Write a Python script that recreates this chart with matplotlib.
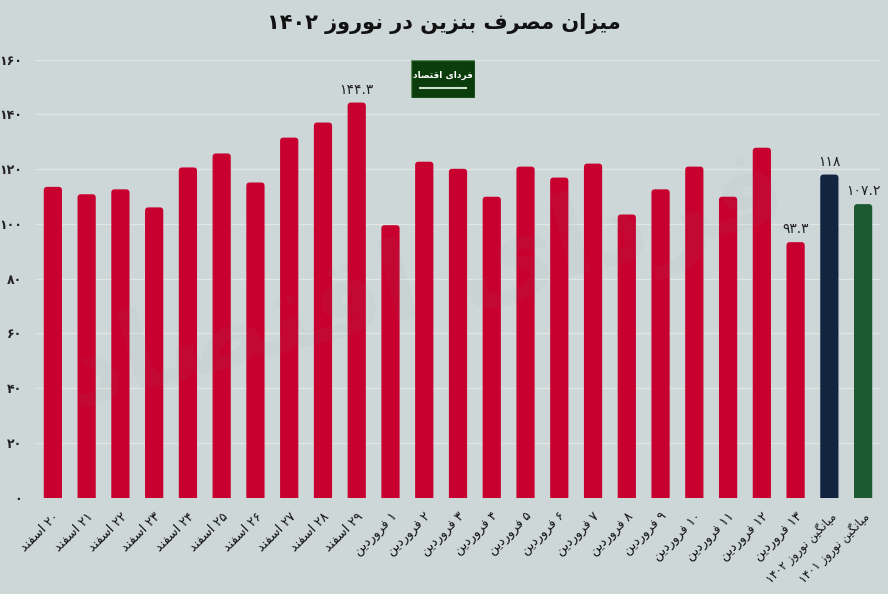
import matplotlib
matplotlib.use("Agg")
import matplotlib.pyplot as plt
from matplotlib.patches import FancyBboxPatch, Rectangle

# ---------------- data ----------------
categories = ["۲۰ اسفند", "۲۱ اسفند", "۲۲ اسفند", "۲۳ اسفند", "۲۴ اسفند",
              "۲۵ اسفند", "۲۶ اسفند", "۲۷ اسفند", "۲۸ اسفند", "۲۹ اسفند",
              "۱ فروردین", "۲ فروردین", "۳ فروردین", "۴ فروردین", "۵ فروردین",
              "۶ فروردین", "۷ فروردین", "۸ فروردین", "۹ فروردین", "۱۰ فروردین",
              "۱۱ فروردین", "۱۲ فروردین", "۱۳ فروردین",
              "میانگین نوروز ۱۴۰۲", "میانگین نوروز ۱۴۰۱"]
values = [113.5, 110.8, 112.6, 106.0, 120.6, 125.7, 115.1, 131.5, 137.0, 144.3,
          99.5, 122.7, 120.1, 109.9, 120.9, 116.9, 122.0, 103.4, 112.6, 120.9,
          109.9, 127.8, 93.3, 118.0, 107.2]
labeled = {9: "۱۴۴.۳", 22: "۹۳.۳", 23: "۱۱۸", 24: "۱۰۷.۲"}
yticks = [0, 20, 40, 60, 80, 100, 120, 140, 160]
ytick_labels = ["۰", "۲۰", "۴۰", "۶۰", "۸۰", "۱۰۰", "۱۲۰", "۱۴۰", "۱۶۰"]
title = "میزان مصرف بنزین در نوروز ۱۴۰۲"
logo_text = "فردای اقتصاد"

# ---------------- simple Persian shaping ----------------
FORMS = {
    'ا': ('\uFE8D', '\uFE8E', None, None),
    'آ': ('\uFE81', '\uFE82', None, None),
    'ب': ('\uFE8F', '\uFE90', '\uFE91', '\uFE92'),
    'پ': ('\uFB56', '\uFB57', '\uFB58', '\uFB59'),
    'ت': ('\uFE95', '\uFE96', '\uFE97', '\uFE98'),
    'ث': ('\uFE99', '\uFE9A', '\uFE9B', '\uFE9C'),
    'ج': ('\uFE9D', '\uFE9E', '\uFE9F', '\uFEA0'),
    'چ': ('\uFB7A', '\uFB7B', '\uFB7C', '\uFB7D'),
    'ح': ('\uFEA1', '\uFEA2', '\uFEA3', '\uFEA4'),
    'خ': ('\uFEA5', '\uFEA6', '\uFEA7', '\uFEA8'),
    'د': ('\uFEA9', '\uFEAA', None, None),
    'ذ': ('\uFEAB', '\uFEAC', None, None),
    'ر': ('\uFEAD', '\uFEAE', None, None),
    'ز': ('\uFEAF', '\uFEB0', None, None),
    'ژ': ('\uFB8A', '\uFB8B', None, None),
    'س': ('\uFEB1', '\uFEB2', '\uFEB3', '\uFEB4'),
    'ش': ('\uFEB5', '\uFEB6', '\uFEB7', '\uFEB8'),
    'ص': ('\uFEB9', '\uFEBA', '\uFEBB', '\uFEBC'),
    'ض': ('\uFEBD', '\uFEBE', '\uFEBF', '\uFEC0'),
    'ط': ('\uFEC1', '\uFEC2', '\uFEC3', '\uFEC4'),
    'ظ': ('\uFEC5', '\uFEC6', '\uFEC7', '\uFEC8'),
    'ع': ('\uFEC9', '\uFECA', '\uFECB', '\uFECC'),
    'غ': ('\uFECD', '\uFECE', '\uFECF', '\uFED0'),
    'ف': ('\uFED1', '\uFED2', '\uFED3', '\uFED4'),
    'ق': ('\uFED5', '\uFED6', '\uFED7', '\uFED8'),
    'ک': ('\uFB8E', '\uFB8F', '\uFB90', '\uFB91'),
    'گ': ('\uFB92', '\uFB93', '\uFB94', '\uFB95'),
    'ل': ('\uFEDD', '\uFEDE', '\uFEDF', '\uFEE0'),
    'م': ('\uFEE1', '\uFEE2', '\uFEE3', '\uFEE4'),
    'ن': ('\uFEE5', '\uFEE6', '\uFEE7', '\uFEE8'),
    'ه': ('\uFEE9', '\uFEEA', '\uFEEB', '\uFEEC'),
    'و': ('\uFEED', '\uFEEE', None, None),
    'ی': ('\uFBFC', '\uFBFD', '\uFBFE', '\uFBFF'),
}


def shape(text):
    out = []
    n = len(text)
    for i, ch in enumerate(text):
        if ch not in FORMS:
            out.append(ch)
            continue
        iso, fin, ini, med = FORMS[ch]
        prev = text[i - 1] if i > 0 else None
        nxt = text[i + 1] if i < n - 1 else None
        jp = prev in FORMS and FORMS[prev][2] is not None
        jn = nxt in FORMS and ini is not None
        if jp and jn:
            out.append(med)
        elif jp:
            out.append(fin)
        elif jn:
            out.append(ini)
        else:
            out.append(iso)
    return ''.join(out)


def is_ltr(ch):
    return ch.isdigit() or ch in '.' or ('a' <= ch.lower() <= 'z')


def fa(text):
    s = shape(text)
    runs = []
    for ch in s:
        kind = 'L' if is_ltr(ch) else 'R'
        if runs and runs[-1][0] == kind:
            runs[-1][1].append(ch)
        else:
            runs.append([kind, [ch]])
    parts = []
    for kind, chars in reversed(runs):
        seg = ''.join(chars)
        parts.append(seg if kind == 'L' else seg[::-1])
    return ''.join(parts)


# ---------------- figure ----------------
BG = '#ced7d8'
plt.rcParams['font.family'] = ['DejaVu Sans']
fig = plt.figure(figsize=(8.88, 5.94), dpi=100, facecolor=BG)
ax = fig.add_axes([36 / 888, (594 - 497.5) / 594, (880 - 36) / 888, (497.5 - 59.6) / 594])
ax.set_facecolor(BG)
ax.set_xlim(-0.5, len(values) - 0.5)
ax.set_ylim(0, 160)

colors = ['#c8002f'] * (len(values) - 2) + ['#12243f', '#1d5a31']
x = list(range(len(values)))
bars = ax.bar(x, values, width=0.54, color=colors, zorder=3)

# replace rectangles with rounded-top versions
px_x = (880 - 36) / len(values)
px_y = (497.5 - 59.6) / 160
r = 0.1
for b, c in zip(bars, colors):
    b.set_visible(False)
    fb = FancyBboxPatch((b.get_x(), -4), b.get_width(), b.get_height() + 4,
                        boxstyle=f"round,pad=0,rounding_size={r}",
                        mutation_aspect=px_x / px_y, facecolor=c,
                        edgecolor='none', zorder=3)
    ax.add_patch(fb)

for i, txt in labeled.items():
    ax.text(i, values[i] + 2.2, fa(txt), ha='center', va='bottom',
            fontsize=10, color='#222222', zorder=4)

ax.set_yticks(yticks)
ax.set_yticklabels([fa(t) for t in ytick_labels], fontsize=9, fontweight='bold', color='#222222')
ax.yaxis.grid(True, color='#e3e5e3', linewidth=0.9, zorder=0)
ax.set_axisbelow(True)
ax.set_xticks(x)
ax.set_xticklabels([fa(c) for c in categories], rotation=45, ha='right',
                   rotation_mode='anchor', fontsize=9.2, color='#111111')
for lbl in ax.get_xticklabels()[-2:]:
    lbl.set_fontsize(8.4)
ax.tick_params(axis='both', length=0)
ax.tick_params(axis='y', pad=10)
ax.tick_params(axis='x', pad=9)
for s in ax.spines.values():
    s.set_visible(False)

# faint watermark
fig.text(0.48, 0.52, fa(logo_text), fontsize=80, fontweight='bold', color='#8a9898',
         alpha=0.06, rotation=15, ha='center', va='center', zorder=5)

# title
fig.text(0.5, 1 - 24 / 594, fa(title), ha='center', va='center', fontsize=15,
         fontweight='bold', color='#111111')

# logo
logo_ax = fig.add_axes([411 / 888, (594 - 98) / 594, 64 / 888, 38 / 594])
logo_ax.set_xlim(0, 1)
logo_ax.set_ylim(0, 1)
logo_ax.axis('off')
logo_ax.add_patch(Rectangle((0, 0), 1, 1, facecolor='#0b3d0c', edgecolor='#5c8a5c', linewidth=1))
logo_ax.text(0.5, 0.6, fa(logo_text), ha='center', va='center', color='white',
             fontsize=6.5, fontweight='bold')
logo_ax.plot([0.14, 0.86], [0.27, 0.27], color='#cfe0cf', linewidth=1.5)

fig.savefig('out.png', dpi=100, facecolor=BG)
